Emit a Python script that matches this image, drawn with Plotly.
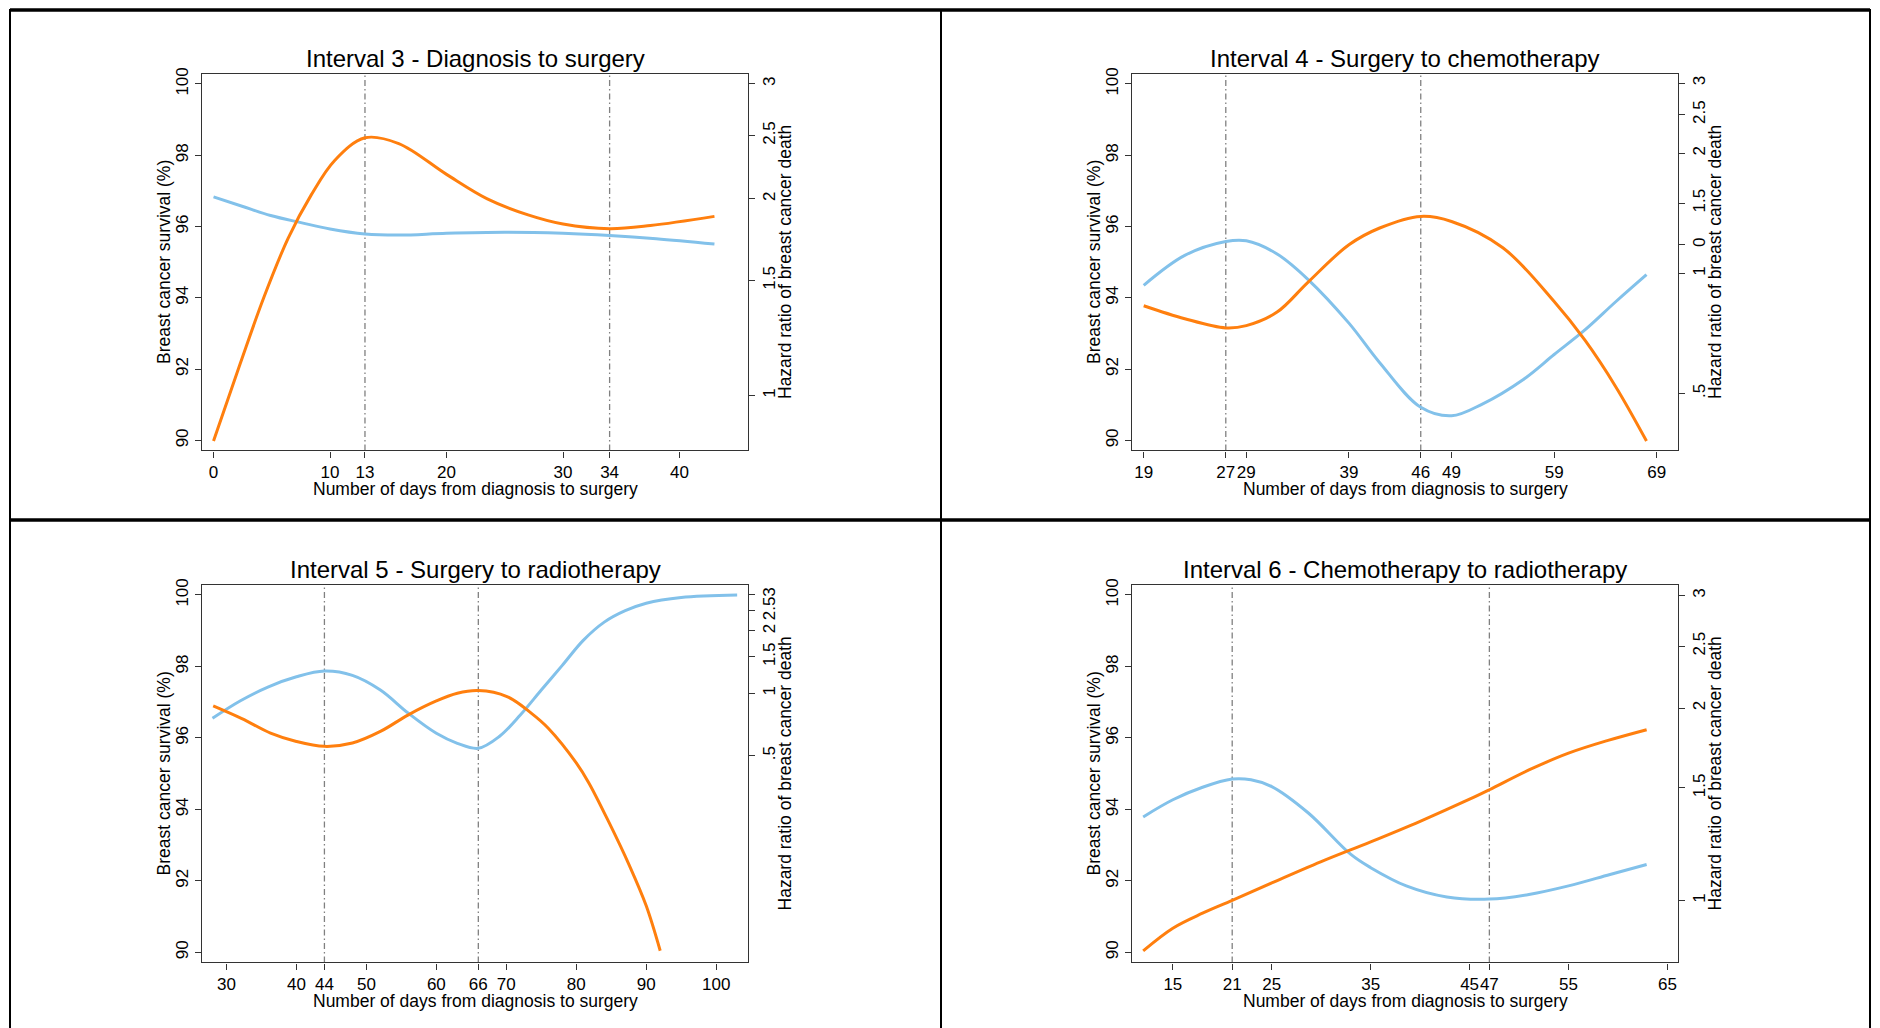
import math
import plotly.graph_objects as go

W, H = 1880, 1028
FONT = "Liberation Sans, Arial, sans-serif"
BLUE = "#82C1EA"
ORANGE = "#FF7F0E"

# ---------------- Data ----------------
titles = ["Interval 3 - Diagnosis to surgery",
          "Interval 4 - Surgery to chemotherapy",
          "Interval 5 - Surgery to radiotherapy",
          "Interval 6 - Chemotherapy to radiotherapy"]
x_title = "Number of days from diagnosis to surgery"
y_left_title = "Breast cancer survival (%)"
y_right_title = "Hazard ratio of breast cancer death"

# Panel 1 (Interval 3)
p1_surv_days = [0, 2.45, 4.9, 7.5, 10, 13, 16, 20, 25, 30, 34, 38, 43]
p1_surv = [96.83, 96.57, 96.31, 96.11, 95.93, 95.79, 95.76, 95.81, 95.84, 95.81, 95.75, 95.66, 95.51]
p1_hr_days = [0, 2.3, 4.3, 6.4, 8.4, 10.4, 13, 15.9, 20, 23.5, 27, 30, 34, 37.5, 43]
p1_hr = [0.852, 1.12, 1.41, 1.74, 2.03, 2.29, 2.48, 2.43, 2.18, 2.00, 1.89, 1.83, 1.80, 1.82, 1.88]
p1_xticks = [0, 10, 13, 20, 30, 34, 40]
p1_vlines = [13, 34]
p1_hr_ticks = [1, 1.5, 2, 2.5, 3]
p1_hr_ticktext = ["1", "1.5", "2", "2.5", "3"]

# Panel 2 (Interval 4)
p2_surv_days = [19, 23, 27, 29, 32, 35, 39, 42, 46, 49, 52, 56, 59, 62, 65, 68]
p2_surv = [94.35, 95.19, 95.58, 95.60, 95.23, 94.52, 93.29, 92.18, 90.93, 90.69, 91.02, 91.71, 92.41, 93.10, 93.89, 94.65]
p2_hr_days = [19, 23, 27, 29, 32, 35, 39, 42, 46, 49, 54, 59, 62, 65, 68]
p2_hr = [0.83, 0.77, 0.73, 0.74, 0.80, 0.95, 1.18, 1.30, 1.39, 1.35, 1.16, 0.85, 0.68, 0.52, 0.38]
p2_xticks = [19, 27, 29, 39, 46, 49, 59, 69]
p2_vlines = [27, 46]
p2_hr_ticks = [0.5, 1, 1.18, 1.5, 2, 2.5, 3]
p2_hr_ticktext = [".5", "1", "0", "1.5", "2", "2.5", "3"]

# Panel 3 (Interval 5)
p3_surv_days = [28, 32, 36, 40, 44, 48, 52, 56, 60, 63, 66, 69, 72, 75, 78, 81, 84, 87, 90, 95, 103]
p3_surv = [96.55, 97.04, 97.43, 97.71, 97.87, 97.75, 97.34, 96.69, 96.13, 95.85, 95.71, 96.04, 96.64,
           97.34, 98.03, 98.73, 99.24, 99.56, 99.77, 99.93, 100.0]
p3_hr_days = [28.1, 32.2, 36.3, 40, 44, 48, 52, 56, 60, 63, 66, 70.1, 73.6, 76.0, 80.0, 81.8, 84.7, 87.6, 90.0, 92.0]
p3_hr = [0.87, 0.755, 0.642, 0.585, 0.554, 0.575, 0.654, 0.787, 0.918, 1.0, 1.03, 0.964, 0.80, 0.678,
         0.461, 0.369, 0.237, 0.147, 0.094, 0.057]
p3_xticks = [30, 40, 44, 50, 60, 66, 70, 80, 90, 100]
p3_vlines = [44, 66]
p3_hr_ticks = [0.5, 1, 1.5, 2, 2.5, 3]
p3_hr_ticktext = [".5", "1", "1.5", "2", "2.5", "3"]

# Panel 4 (Interval 6)
p4_surv_days = [12, 15, 18, 21, 22.9, 25, 28.7, 33, 35, 38.6, 42.7, 47, 51, 55, 59.2, 62.9]
p4_surv = [93.79, 94.27, 94.62, 94.85, 94.83, 94.64, 93.90, 92.74, 92.37, 91.86, 91.55, 91.49, 91.62, 91.86, 92.18, 92.46]
p4_hr_days = [12, 15, 18, 21, 25, 30, 35, 40, 45, 47, 51, 55, 59, 62.9]
p4_hr = [0.834, 0.905, 0.955, 1.0, 1.065, 1.15, 1.235, 1.33, 1.44, 1.49, 1.60, 1.70, 1.78, 1.85]
p4_xticks = [15, 21, 25, 35, 45, 47, 55, 65]
p4_vlines = [21, 47]
p4_hr_ticks = [1, 1.5, 2, 2.5, 3]
p4_hr_ticktext = ["1", "1.5", "2", "2.5", "3"]

surv_ticks = [90, 92, 94, 96, 98, 100]

# ---------------- Layout geometry (pixels) ----------------
boxes = [(202, 748, 68, 447), (1132, 1678, 68, 447), (202, 748, 582, 962), (1132, 1678, 582, 962)]
x_ranges = [(-0.99, 45.88), (17.86, 71.07), (26.5, 104.55), (10.87, 66.07)]
surv_range = (89.72, 100.29)
hr_ranges = [(0.824, 3.11), (0.36, 3.17), (0.0501, 3.35), (0.80, 3.12)]

panels = [
    (p1_surv_days, p1_surv, p1_hr_days, p1_hr, p1_xticks, p1_vlines, p1_hr_ticks, p1_hr_ticktext),
    (p2_surv_days, p2_surv, p2_hr_days, p2_hr, p2_xticks, p2_vlines, p2_hr_ticks, p2_hr_ticktext),
    (p3_surv_days, p3_surv, p3_hr_days, p3_hr, p3_xticks, p3_vlines, p3_hr_ticks, p3_hr_ticktext),
    (p4_surv_days, p4_surv, p4_hr_days, p4_hr, p4_xticks, p4_vlines, p4_hr_ticks, p4_hr_ticktext),
]


def px_x(x):
    return x / W


def px_y(y):
    return 1 - y / H


fig = go.Figure()
layout = dict(
    width=W, height=H,
    margin=dict(l=0, r=0, t=0, b=0),
    paper_bgcolor="white", plot_bgcolor="white",
    showlegend=False,
    font=dict(family=FONT, size=17, color="black"),
)
shapes = []
annotations = []
tickfont = dict(size=17, color="black", family=FONT)

for i, (sd, sv, hd, hv, xt, vl, ht, htt) in enumerate(panels):
    n = i + 1
    xk = "x" if n == 1 else f"x{n}"
    yl = f"y{2 * n - 1}" if n > 1 else "y"
    yr = f"y{2 * n}"
    l, r, t, b = boxes[i]

    fig.add_trace(go.Scatter(x=sd, y=sv, mode="lines", line=dict(color=BLUE, width=3, shape="spline"),
                             xaxis=xk, yaxis=yl, hoverinfo="skip"))
    fig.add_trace(go.Scatter(x=hd, y=hv, mode="lines", line=dict(color=ORANGE, width=3, shape="spline"),
                             xaxis=xk, yaxis=yr, hoverinfo="skip"))

    xname = "xaxis" if n == 1 else f"xaxis{n}"
    ylname = "yaxis" if n == 1 else f"yaxis{2 * n - 1}"
    yrname = f"yaxis{2 * n}"

    layout[xname] = dict(
        domain=[px_x(l), px_x(r)], anchor=yl, range=list(x_ranges[i]),
        tickmode="array", tickvals=xt, ticktext=[str(v) for v in xt], tickangle=0,
        ticks="outside", ticklen=6, tickwidth=1, tickcolor="#333",
        showline=True, linecolor="#333", linewidth=1.3, mirror=True,
        showgrid=False, zeroline=False, tickfont=tickfont,
    )
    layout[ylname] = dict(
        domain=[px_y(b), px_y(t)], anchor=xk, range=list(surv_range),
        tickmode="array", tickvals=surv_ticks, ticktext=[str(v) for v in surv_ticks],
        ticks="outside", ticklen=6, tickwidth=1, tickcolor="#333", tickangle=-90,
        showline=True, linecolor="#333", linewidth=1.3, mirror=True,
        showgrid=False, zeroline=False, tickfont=tickfont,
    )
    lo, hi = hr_ranges[i]
    layout[yrname] = dict(
        overlaying=yl, side="right", anchor=xk, type="log",
        range=[math.log10(lo), math.log10(hi)],
        tickmode="array", tickvals=ht, ticktext=htt,
        ticks="outside", ticklen=6, tickwidth=1, tickcolor="#333", tickangle=-90,
        showline=False, showgrid=False, zeroline=False, tickfont=tickfont,
    )

    for v in vl:
        shapes.append(dict(type="line", xref=xk, yref=f"{yl} domain", x0=v, x1=v, y0=0, y1=1,
                           line=dict(color="#808080", width=1.3, dash="6px,3px,1.5px,3px"), layer="below"))

    cx = (l + r) / 2
    annotations.append(dict(text=titles[i], x=px_x(cx), y=px_y(t - 15), xref="paper", yref="paper",
                            showarrow=False, xanchor="center", yanchor="middle",
                            font=dict(size=24, color="black", family=FONT)))
    annotations.append(dict(text=x_title, x=px_x(cx), y=px_y(b + 39), xref="paper", yref="paper",
                            showarrow=False, xanchor="center", yanchor="middle",
                            font=dict(size=17.5, color="black", family=FONT)))
    cy = (t + b) / 2
    annotations.append(dict(text=y_left_title, x=px_x(l - 38), y=px_y(cy), xref="paper", yref="paper",
                            showarrow=False, xanchor="center", yanchor="middle", textangle=-90,
                            font=dict(size=17.5, color="black", family=FONT)))
    annotations.append(dict(text=y_right_title, x=px_x(r + 37), y=px_y(cy), xref="paper", yref="paper",
                            showarrow=False, xanchor="center", yanchor="middle", textangle=-90,
                            font=dict(size=17.5, color="black", family=FONT)))

# panel frame lines
frame_color = "black"
shapes.append(dict(type="line", xref="paper", yref="paper", x0=px_x(10), x1=px_x(1870), y0=px_y(4), y1=px_y(4),
                   line=dict(color=frame_color, width=3.5)))
shapes.append(dict(type="line", xref="paper", yref="paper", x0=px_x(10), x1=px_x(1870), y0=px_y(517), y1=px_y(517),
                   line=dict(color=frame_color, width=3.5)))
for xv in (10, 941, 1870):
    shapes.append(dict(type="line", xref="paper", yref="paper", x0=px_x(xv), x1=px_x(xv), y0=px_y(3), y1=px_y(1028),
                       line=dict(color=frame_color, width=2)))

layout["shapes"] = shapes
layout["annotations"] = annotations
fig.update_layout(**layout)

post = ("document.body.style.margin='0';document.body.style.padding='0';"
        "var gd=document.getElementById('{plot_id}');gd.style.position='absolute';"
        "gd.style.left='0px';gd.style.top='0px';")
fig.write_html("out.html", post_script=post, config={"displayModeBar": False})
